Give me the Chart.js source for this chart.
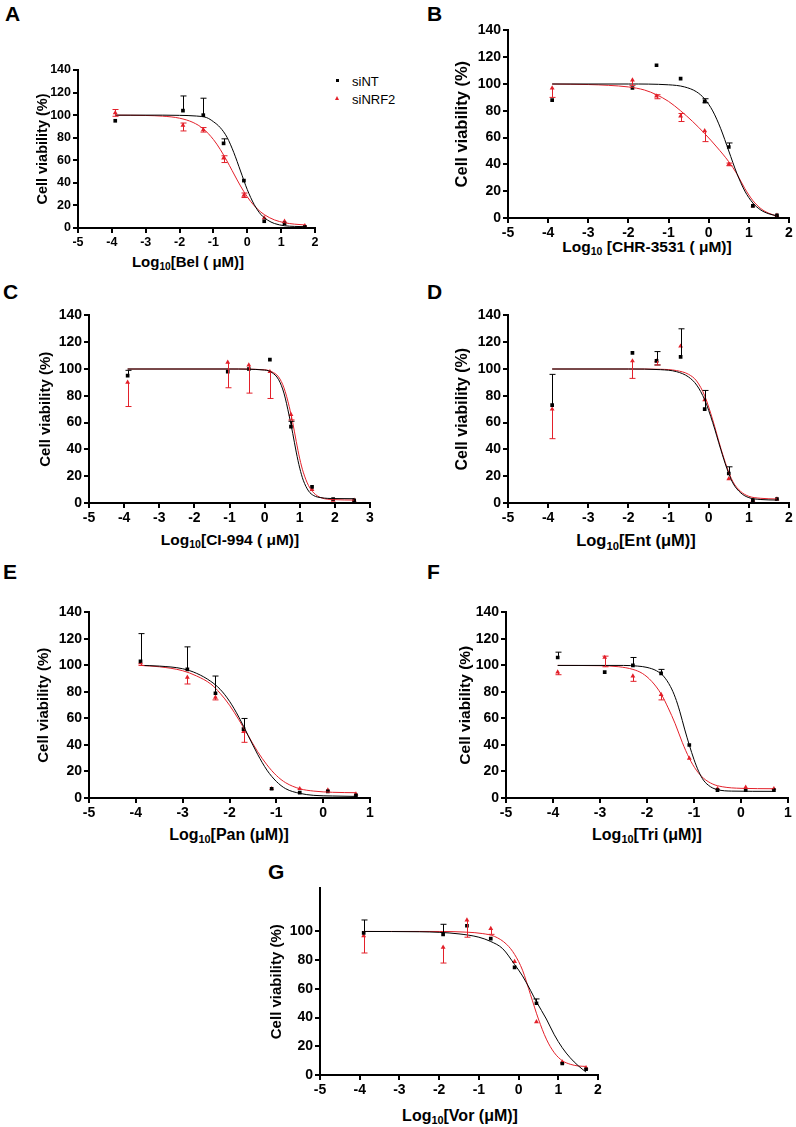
<!DOCTYPE html>
<html>
<head>
<meta charset="utf-8">
<script src="https://cdn.jsdelivr.net/npm/chart.js@4.4.0/dist/chart.umd.min.js"></script>
<style>
  body { margin: 0; background: #fff; width: 796px; height: 1127px; position: relative; overflow: hidden;
         font-family: 'Liberation Sans', Arial, sans-serif; }
  .letter { position: absolute; font-weight: bold; font-size: 21px; line-height: 1; }
  .xt { position: absolute; font-weight: bold; white-space: nowrap; transform: translate(-50%, -50%); line-height: 1; }
  .xt .sub { font-size: 68%; position: relative; top: 0.32em; }
  .leg { position: absolute; font-size: 13px; line-height: 1; transform: translateY(-50%); }
  .mk-sq { position: absolute; width: 3px; height: 3px; background: #000; }
  .mk-tri { position: absolute; width: 0; height: 0; border-left: 2.5px solid transparent;
            border-right: 2.5px solid transparent; border-bottom: 4px solid #e3202a; }
</style>
</head>
<body>
<div class="letter" style="left:5px;top:3px">A</div>
<div class="letter" style="left:427px;top:3px">B</div>
<div class="letter" style="left:3px;top:281px">C</div>
<div class="letter" style="left:427px;top:281px">D</div>
<div class="letter" style="left:3px;top:561px">E</div>
<div class="letter" style="left:427px;top:561px">F</div>
<div class="letter" style="left:268px;top:861px">G</div>

<div class="xt" style="left:188px;top:262px;font-size:15px">Log<span class="sub">10</span>[Bel ( μM)]</div>
<div class="xt" style="left:647px;top:247px;font-size:15.5px">Log<span class="sub">10</span> [CHR-3531 ( μM)]</div>
<div class="xt" style="left:230px;top:540px;font-size:15.5px">Log<span class="sub">10</span>[CI-994 ( μM)]</div>
<div class="xt" style="left:636px;top:540px;font-size:16.5px">Log<span class="sub">10</span>[Ent (μM)]</div>
<div class="xt" style="left:229px;top:835px;font-size:16px">Log<span class="sub">10</span>[Pan (μM)]</div>
<div class="xt" style="left:647px;top:835px;font-size:16px">Log<span class="sub">10</span>[Tri (μM)]</div>
<div class="xt" style="left:460px;top:1116px;font-size:16px">Log<span class="sub">10</span>[Vor (μM)]</div>

<div class="mk-sq" style="left:336px;top:79px"></div>
<div class="leg" style="left:352px;top:81px">siNT</div>
<div class="mk-tri" style="left:335px;top:96px"></div>
<div class="leg" style="left:352px;top:99px">siNRF2</div>

<script>
Chart.defaults.font.family = "'Liberation Sans', Arial, sans-serif";
Chart.defaults.color = '#000';

const BLACK = '#000000';
const RED = '#e3202a';

// doses (log10 uM)
const doseBel = [-3.9, -1.9, -1.3, -0.7, -0.1, 0.5, 1.1, 1.7];
const doseCHR = [-3.9, -1.9, -1.3, -0.7, -0.1, 0.5, 1.1, 1.7];
const doseCI = [-3.9, -1.05, -0.45, 0.15, 0.75, 1.35, 1.95, 2.55];
const doseEnt = [-3.9, -1.9, -1.3, -0.7, -0.1, 0.5, 1.1, 1.7];
const dosePan = [-3.9, -2.9, -2.3, -1.7, -1.1, -0.5, 0.1, 0.7];
const doseTri = [-3.9, -2.9, -2.3, -1.7, -1.1, -0.5, 0.1, 0.7];
const doseVor = [-3.9, -1.9, -1.3, -0.7, -0.1, 0.45, 1.1, 1.7];

// mean viability (%) and visible error bar span [low, high]
const belNT = [95, 104, 100, 75, 42, 6, 4, 1];
const belNTErr = [null, [104, 117], [100, 115], [75, 79], null, null, null, null];
const belNRF2 = [102, 91, 87, 62, 29, 9, 6, 2];
const belNRF2Err = [[99, 105], [86, 93], [85, 89], [58, 64], [27, 31], null, null, null];

const chrNT = [88, 97, 114, 104, 87, 53, 9, 2];
const chrNTErr = [null, null, null, null, [86, 89], [53, 56], null, null];
const chrNRF2 = [97, 103, 91, 76, 65, 40, 9, 2];
const chrNRF2Err = [[90, 97], [99, 103], [89, 92], [72, 78], [57, 65], [39, 41], null, null];

const ciNT = [95, 98, 100, 107, 57, 12, 3, 2];
const ciNTErr = [[95, 99], null, null, null, [57, 61], null, null, null];
const ciNRF2 = [90, 105, 103, 98, 66, 10, 2, 2];
const ciNRF2Err = [[72, 90], [86, 105], [82, 103], [78, 98], [62, 66], null, null, null];

const entNT = [73, 112, 106, 109, 70, 22, 2, 3];
const entNTErr = [[73, 96], null, [103, 113], [109, 130], [70, 84], [22, 27], null, null];
const entNRF2 = [70, 106, 106, 117, 77, 18, 2, 3];
const entNRF2Err = [[48, 70], [93, 106], [103, 106], null, null, null, null, null];

const panNT = [103, 97, 79, 52, 7, 4, 5, 2];
const panNTErr = [[103, 124], [97, 114], [79, 92], [52, 60], null, null, null, null];
const panNRF2 = [102, 91, 76, 50, 7, 7, 6, 3];
const panNRF2Err = [[100, 102], [86, 91], [74, 76], [42, 50], null, null, null, null];

const triNT = [106, 95, 100, 94, 40, 6, 6, 6];
const triNTErr = [[106, 110], null, [100, 106], [94, 97], null, null, null, null];
const triNRF2 = [95, 106, 92, 78, 30, 7, 8, 7];
const triNRF2Err = [[93, 95], [99, 107], [88, 92], [74, 78], null, null, null, null];

const vorNT = [99, 98, 104, 95, 75, 50, 8, 4];
const vorNTErr = [[99, 108], [98, 105], null, null, null, [50, 53], null, null];
const vorNRF2 = [97, 89, 108, 102, 79, 37, 9, 5];
const vorNRF2Err = [[85, 97], [78, 89], [96, 108], [98, 102], null, null, null, null];

// fitted curves as [log dose, viability]
const fitBelNT = [[-3.9, 100], [-2.5, 100], [-2, 99.8], [-1.5, 99.2], [-1.2, 97.8], [-1, 94.2], [-0.8, 89], [-0.6, 80.5], [-0.4, 67], [-0.2, 50.5], [0, 34], [0.2, 21], [0.4, 12], [0.6, 7], [0.8, 4], [1.1, 2], [1.4, 1.4], [1.7, 1.2]];
const fitBelNRF2 = [[-3.9, 100], [-3, 99.7], [-2.5, 99.1], [-2, 97.3], [-1.6, 93.5], [-1.3, 87.9], [-1, 78.4], [-0.8, 69.7], [-0.6, 59.4], [-0.45, 51], [-0.3, 42.6], [-0.1, 32.2], [0.1, 23.5], [0.3, 16.8], [0.5, 11.9], [0.8, 7.2], [1.1, 4.7], [1.4, 3.4], [1.7, 2.7]];
const fitChrNT = [[-3.9, 100], [-2, 100], [-1, 99.4], [-0.6, 97.8], [-0.3, 94.1], [-0.1, 88.8], [0.1, 79.9], [0.3, 66.6], [0.5, 50], [0.7, 33.4], [0.9, 20.1], [1.1, 11.2], [1.3, 5.9], [1.5, 3.1], [1.7, 1.6]];
const fitChrNRF2 = [[-3.9, 100], [-3, 99.6], [-2.5, 99], [-2, 97.8], [-1.6, 95.5], [-1.3, 92], [-1, 87], [-0.7, 80], [-0.4, 72], [-0.1, 63], [0.2, 53], [0.5, 42], [0.7, 33], [0.9, 22], [1.1, 13], [1.3, 7], [1.5, 3.5], [1.7, 1.5]];
const fitCiNT = [[-3.9, 100], [-1, 100], [0, 99.2], [0.2, 97.5], [0.4, 92], [0.55, 82], [0.7, 65], [0.8, 52], [0.9, 38], [1, 26], [1.1, 17], [1.25, 9], [1.4, 5.5], [1.6, 4], [2, 3.3], [2.55, 3.2]];
const fitCiNRF2 = [[-3.9, 100], [-1, 100], [0, 99.4], [0.2, 98], [0.4, 94], [0.55, 86], [0.7, 72], [0.8, 60], [0.9, 46], [1, 33], [1.1, 23], [1.25, 13], [1.4, 7.5], [1.6, 4], [2, 2.5], [2.55, 2.2]];
const fitEntNT = [[-3.9, 100], [-2, 100], [-1.2, 99.5], [-0.8, 98], [-0.5, 94], [-0.3, 88], [-0.1, 77], [0.1, 60], [0.3, 40], [0.45, 26], [0.6, 15], [0.8, 7.5], [1, 4], [1.3, 2.6], [1.7, 2.2]];
const fitEntNRF2 = [[-3.9, 100], [-2, 100], [-1.2, 99.8], [-0.8, 98.8], [-0.5, 96], [-0.3, 91], [-0.1, 80], [0.1, 62], [0.3, 41], [0.45, 27], [0.6, 16], [0.8, 8.5], [1, 5], [1.3, 3.5], [1.7, 3]];
const fitPanNT = [[-3.9, 100], [-3.5, 99.5], [-3, 97.5], [-2.7, 94], [-2.4, 88], [-2.2, 82], [-2, 73], [-1.8, 61], [-1.6, 47], [-1.4, 33], [-1.2, 21], [-1, 12.5], [-0.8, 7], [-0.5, 3.5], [-0.2, 2], [0.2, 1.5], [0.7, 1.2]];
const fitPanNRF2 = [[-3.9, 100], [-3.5, 99], [-3, 96], [-2.7, 92], [-2.4, 86], [-2.2, 79], [-2, 70], [-1.8, 59], [-1.6, 47], [-1.4, 35], [-1.2, 25], [-1, 17], [-0.8, 11.5], [-0.5, 7], [-0.2, 5.2], [0.2, 4.3], [0.7, 4]];
const fitTriNT = [[-3.9, 100], [-2.5, 100], [-2.2, 99.5], [-2, 98.5], [-1.8, 96], [-1.65, 92], [-1.5, 84], [-1.4, 76], [-1.3, 65], [-1.2, 52], [-1.1, 40], [-1, 29], [-0.9, 20], [-0.8, 13.5], [-0.65, 8.5], [-0.5, 6.3], [-0.2, 5.2], [0.7, 5]];
const fitTriNRF2 = [[-3.9, 100], [-3, 99.8], [-2.6, 99], [-2.3, 97], [-2.1, 94], [-1.9, 88], [-1.7, 78.5], [-1.55, 68], [-1.4, 56], [-1.25, 42], [-1.1, 30], [-0.95, 21], [-0.8, 15], [-0.6, 10.5], [-0.4, 8.5], [0, 7.3], [0.7, 7]];
const fitVorNT = [[-3.9, 100], [-2.5, 99.8], [-2, 99.4], [-1.5, 98.3], [-1, 96], [-0.7, 93], [-0.4, 88], [-0.1, 77], [0.1, 69], [0.3, 59], [0.45, 51], [0.7, 39], [0.9, 28], [1.1, 19], [1.3, 12], [1.5, 6.5], [1.7, 2]];
const fitVorNRF2 = [[-3.9, 100], [-2, 100], [-1.3, 99.5], [-0.9, 98.5], [-0.6, 96.5], [-0.3, 91], [-0.1, 84], [0.1, 73], [0.3, 56], [0.5, 39], [0.7, 25], [0.9, 15.5], [1.1, 10], [1.3, 7.5], [1.5, 6.3], [1.7, 6]];

// error bars drawn through the chart's own scales
const errorBars = {
  id: 'errorBars',
  afterDatasetsDraw(chart) {
    const { ctx, scales: { x, y } } = chart;
    chart.data.datasets.forEach(ds => {
      if (!ds.errs) return;
      ctx.save();
      ctx.strokeStyle = ds.borderColor;
      ctx.lineWidth = 1;
      ds.errs.forEach((e, i) => {
        if (!e) return;
        const v = ds.data[i].y;
        const px = Math.round(x.getPixelForValue(ds.data[i].x)) + 0.5;
        const lo = y.getPixelForValue(e[0]);
        const hi = y.getPixelForValue(e[1]);
        ctx.beginPath();
        ctx.moveTo(px, lo);
        ctx.lineTo(px, hi);
        if (e[1] > v + 0.5) { ctx.moveTo(px - 3, hi); ctx.lineTo(px + 3, hi); }
        if (e[0] < v - 0.5) { ctx.moveTo(px - 3, lo); ctx.lineTo(px + 3, lo); }
        ctx.stroke();
      });
      ctx.restore();
    });
  }
};

function pts(xs, ys) {
  return xs.map((x, i) => ({ x, y: ys[i] }));
}
function curve(pairs) {
  return pairs.map(p => ({ x: p[0], y: p[1] }));
}

function drawPanel(p) {
  const tickSize = p.tickSize || 14;
  const titleSize = p.titleSize || 15.5;
  const lh = titleSize * 1.2;
  const cLeft = Math.round(p.titleX - lh / 2);
  const cTop = p.top - 10;
  const xAxisH = 30;
  const cw = p.right + 12 - cLeft;
  const ch = p.bottom + xAxisH - cTop;
  const canvas = document.createElement('canvas');
  canvas.width = cw;
  canvas.height = ch;
  canvas.style.cssText = `position:absolute;left:${cLeft}px;top:${cTop}px;width:${cw}px;height:${ch}px`;
  document.body.appendChild(canvas);

  const axisGrid = { drawOnChartArea: false, drawTicks: true, tickLength: 5, color: BLACK, lineWidth: 2 };
  const axisBorder = { display: true, color: BLACK, width: 2 };
  const tickFont = { size: tickSize, weight: 'bold' };

  new Chart(canvas, {
    type: 'scatter',
    data: {
      datasets: [
        { type: 'line', data: curve(p.fitNT), borderColor: BLACK, borderWidth: 1, pointRadius: 0, cubicInterpolationMode: 'monotone', fill: false },
        { type: 'line', data: curve(p.fitNRF2), borderColor: RED, borderWidth: 1, pointRadius: 0, cubicInterpolationMode: 'monotone', fill: false },
        { label: 'siNT', data: pts(p.dose, p.nt), errs: p.ntErr, pointStyle: 'rect', pointRadius: 2.6, backgroundColor: BLACK, borderColor: BLACK, borderWidth: 0 },
        { label: 'siNRF2', data: pts(p.dose, p.nrf2), errs: p.nrf2Err, pointStyle: 'triangle', pointRadius: 2.8, backgroundColor: RED, borderColor: RED, borderWidth: 0 }
      ]
    },
    options: {
      responsive: false,
      animation: false,
      events: [],
      layout: { padding: { left: 0, top: 10, right: 12, bottom: 0 } },
      plugins: { legend: { display: false }, tooltip: { enabled: false } },
      scales: {
        x: {
          type: 'linear', min: -5, max: p.xMax,
          grid: axisGrid, border: axisBorder,
          ticks: { stepSize: 1, font: tickFont, padding: 2, color: BLACK },
          afterFit: s => { s.height = xAxisH; }
        },
        y: {
          type: 'linear', min: 0, max: p.yMax,
          grid: axisGrid, border: axisBorder,
          ticks: { stepSize: 20, font: tickFont, padding: 2, color: BLACK },
          afterBuildTicks: s => { s.ticks = s.ticks.filter(t => t.value % 20 === 0); },
          title: { display: true, text: 'Cell viability (%)', font: { size: titleSize, weight: 'bold' }, color: BLACK, padding: 0 },
          afterFit: s => { s.width = p.left - cLeft; }
        }
      }
    },
    plugins: [errorBars]
  });
}

const panels = [
  { dose: doseBel, nt: belNT, ntErr: belNTErr, nrf2: belNRF2, nrf2Err: belNRF2Err, fitNT: fitBelNT, fitNRF2: fitBelNRF2,
    xMax: 2, yMax: 140, left: 78, right: 315, top: 70, bottom: 228, titleX: 43, tickSize: 12.5, titleSize: 14.5 },
  { dose: doseCHR, nt: chrNT, ntErr: chrNTErr, nrf2: chrNRF2, nrf2Err: chrNRF2Err, fitNT: fitChrNT, fitNRF2: fitChrNRF2,
    xMax: 2, yMax: 140, left: 508, right: 789, top: 30, bottom: 218, titleX: 463, titleSize: 16.5 },
  { dose: doseCI, nt: ciNT, ntErr: ciNTErr, nrf2: ciNRF2, nrf2Err: ciNRF2Err, fitNT: fitCiNT, fitNRF2: fitCiNRF2,
    xMax: 3, yMax: 140, left: 89, right: 370, top: 315, bottom: 503, titleX: 46, titleSize: 15 },
  { dose: doseEnt, nt: entNT, ntErr: entNTErr, nrf2: entNRF2, nrf2Err: entNRF2Err, fitNT: fitEntNT, fitNRF2: fitEntNRF2,
    xMax: 2, yMax: 140, left: 508, right: 789, top: 315, bottom: 503, titleX: 463, titleSize: 16 },
  { dose: dosePan, nt: panNT, ntErr: panNTErr, nrf2: panNRF2, nrf2Err: panNRF2Err, fitNT: fitPanNT, fitNRF2: fitPanNRF2,
    xMax: 1, yMax: 140, left: 89, right: 370, top: 612, bottom: 798, titleX: 44, titleSize: 15 },
  { dose: doseTri, nt: triNT, ntErr: triNTErr, nrf2: triNRF2, nrf2Err: triNRF2Err, fitNT: fitTriNT, fitNRF2: fitTriNRF2,
    xMax: 1, yMax: 140, left: 506, right: 788, top: 612, bottom: 798, titleX: 465, titleSize: 15.5 },
  { dose: doseVor, nt: vorNT, ntErr: vorNTErr, nrf2: vorNRF2, nrf2Err: vorNRF2Err, fitNT: fitVorNT, fitNRF2: fitVorNRF2,
    xMax: 2, yMax: 130, left: 320, right: 598, top: 888, bottom: 1075, titleX: 277, titleSize: 15 }
];

panels.forEach(drawPanel);
</script>
</body>
</html>
